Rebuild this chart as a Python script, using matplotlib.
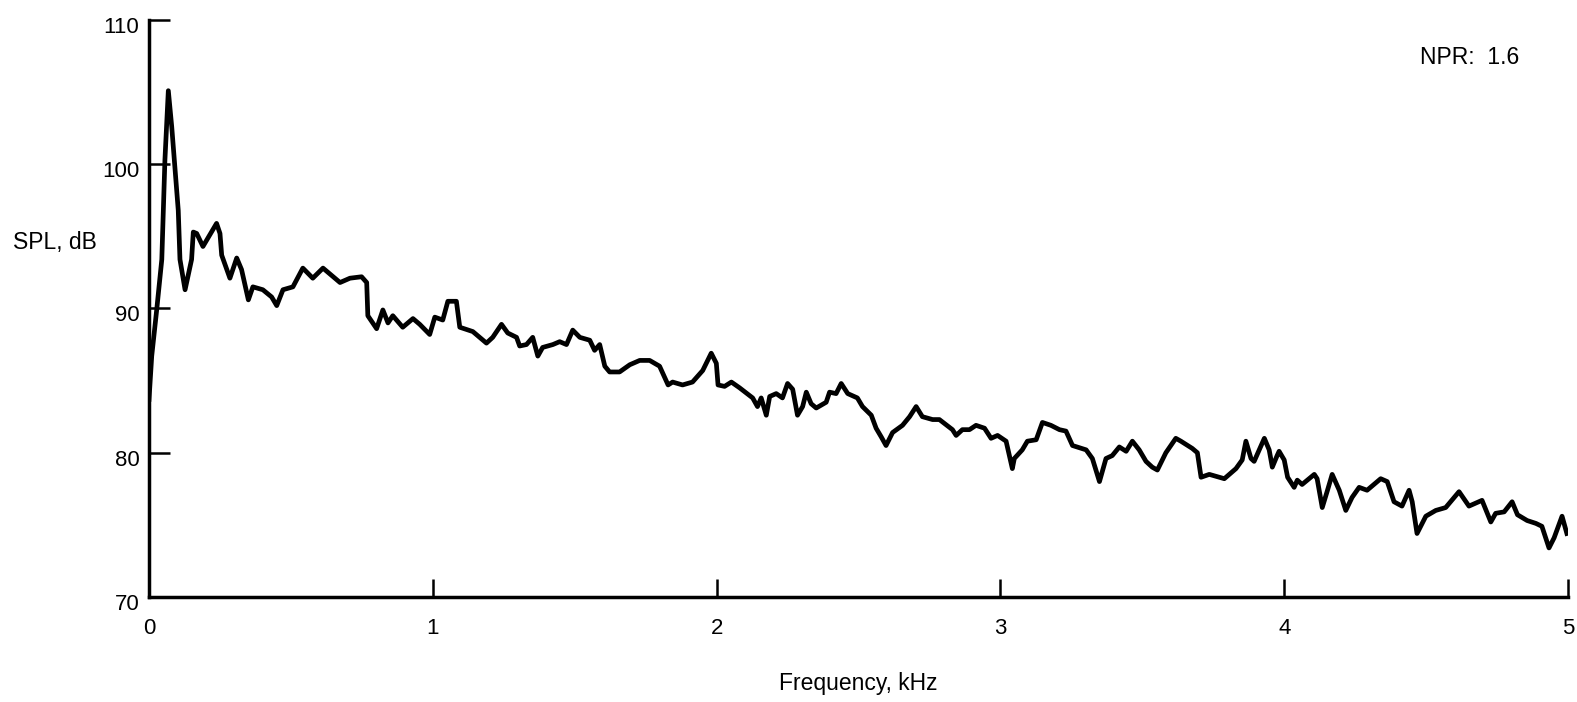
import numpy as np
import matplotlib.pyplot as plt
from matplotlib.transforms import ScaledTranslation

plt.rcParams['font.family'] = ['Liberation Sans', 'DejaVu Sans']

# frequency (kHz) and SPL (dB)
freq = [0.000, 0.0095, 0.027, 0.045, 0.056, 0.068, 0.080, 0.092, 0.103, 0.109,
        0.127, 0.150, 0.156, 0.168, 0.190, 0.238, 0.250, 0.256, 0.285, 0.309,
        0.326, 0.350, 0.366, 0.401, 0.432, 0.450, 0.472, 0.507, 0.542, 0.577,
        0.613, 0.673, 0.708, 0.749, 0.767, 0.771, 0.802, 0.824, 0.842, 0.859,
        0.894, 0.930, 0.954, 0.989, 1.007, 1.035, 1.053, 1.083, 1.095, 1.141,
        1.189, 1.211, 1.242, 1.264, 1.295, 1.306, 1.330, 1.352, 1.370, 1.387,
        1.423, 1.447, 1.471, 1.493, 1.518, 1.553, 1.570, 1.588, 1.606, 1.623,
        1.658, 1.694, 1.729, 1.764, 1.799, 1.829, 1.845, 1.880, 1.915, 1.951,
        1.981, 1.999, 2.005, 2.028, 2.052, 2.081, 2.127, 2.144, 2.157, 2.175,
        2.187, 2.210, 2.232, 2.250, 2.268, 2.285, 2.303, 2.316, 2.333, 2.351,
        2.386, 2.398, 2.421, 2.439, 2.462, 2.496, 2.514, 2.545, 2.562, 2.580,
        2.597, 2.620, 2.655, 2.680, 2.703, 2.725, 2.761, 2.785, 2.831, 2.844,
        2.866, 2.891, 2.914, 2.944, 2.967, 2.990, 3.020, 3.042, 3.049, 3.077,
        3.095, 3.126, 3.148, 3.178, 3.208, 3.231, 3.254, 3.302, 3.324, 3.349,
        3.372, 3.394, 3.419, 3.443, 3.465, 3.489, 3.513, 3.535, 3.553, 3.583,
        3.618, 3.636, 3.676, 3.694, 3.707, 3.736, 3.789, 3.830, 3.852, 3.865,
        3.883, 3.894, 3.930, 3.947, 3.958, 3.975, 3.982, 4.000, 4.012, 4.035,
        4.046, 4.063, 4.106, 4.116, 4.134, 4.151, 4.169, 4.194, 4.217, 4.239,
        4.264, 4.292, 4.340, 4.363, 4.387, 4.415, 4.440, 4.451, 4.468, 4.499,
        4.534, 4.569, 4.616, 4.651, 4.697, 4.728, 4.745, 4.775, 4.803, 4.822,
        4.856, 4.887, 4.908, 4.933, 4.951, 4.968, 4.979, 4.996]
spl = [83.7, 86.7, 89.9, 93.4, 100.3, 105.1, 102.6, 99.6, 96.8, 93.4,
       91.3, 93.4, 95.3, 95.2, 94.3, 95.9, 95.2, 93.7, 92.1, 93.5,
       92.7, 90.6, 91.5, 91.3, 90.8, 90.2, 91.3, 91.5, 92.8, 92.1,
       92.8, 91.8, 92.1, 92.2, 91.8, 89.5, 88.6, 89.9, 89.0, 89.5,
       88.7, 89.3, 88.9, 88.2, 89.4, 89.2, 90.5, 90.5, 88.7, 88.4,
       87.6, 88.0, 88.9, 88.3, 88.0, 87.4, 87.5, 88.0, 86.7, 87.3,
       87.5, 87.7, 87.5, 88.5, 88.0, 87.8, 87.1, 87.5, 86.0, 85.6,
       85.6, 86.1, 86.4, 86.4, 86.0, 84.7, 84.9, 84.7, 84.9, 85.7,
       86.9, 86.2, 84.7, 84.6, 84.9, 84.5, 83.8, 83.2, 83.8, 82.6,
       83.9, 84.1, 83.8, 84.8, 84.4, 82.6, 83.2, 84.2, 83.4, 83.1,
       83.5, 84.2, 84.1, 84.8, 84.1, 83.8, 83.2, 82.6, 81.7, 81.1,
       80.5, 81.4, 81.9, 82.5, 83.2, 82.5, 82.3, 82.3, 81.6, 81.2,
       81.6, 81.6, 81.9, 81.7, 81.0, 81.2, 80.8, 78.9, 79.6, 80.2,
       80.8, 80.9, 82.1, 81.9, 81.6, 81.5, 80.5, 80.2, 79.6, 78.0,
       79.6, 79.8, 80.4, 80.1, 80.8, 80.2, 79.4, 79.0, 78.8, 80.0,
       81.0, 80.8, 80.3, 80.0, 78.3, 78.5, 78.2, 78.9, 79.5, 80.8,
       79.6, 79.4, 81.0, 80.2, 79.0, 79.8, 80.1, 79.5, 78.3, 77.6,
       78.1, 77.8, 78.5, 78.2, 76.2, 77.3, 78.5, 77.4, 76.0, 76.9,
       77.6, 77.4, 78.2, 78.0, 76.6, 76.3, 77.4, 76.6, 74.4, 75.6,
       76.0, 76.2, 77.3, 76.3, 76.7, 75.2, 75.8, 75.9, 76.6, 75.7,
       75.3, 75.1, 74.9, 73.4, 74.1, 75.0, 75.6, 74.4]

xticks = [0, 1, 2, 3, 4, 5]
yticks = [70, 80, 90, 100, 110]

fig = plt.figure(figsize=(15.77, 7.02), dpi=100)
ax = fig.add_axes([0.0945, 0.1496, 0.8998, 0.8219])

ax.plot(freq, spl, color='black', lw=3.4, solid_joinstyle='round')

ax.set_xlim(0, 5)
ax.set_ylim(70, 110)
ax.set_xticks(xticks)
ax.set_yticks(yticks)
ax.tick_params(axis='both', direction='in', width=1.8, labelsize=16, colors='black')
ax.tick_params(axis='y', length=15, pad=7)
ax.tick_params(axis='x', length=13, pad=15)

# y tick labels sit a little below their ticks in the original
shift = ScaledTranslation(0, -5 / 100, fig.dpi_scale_trans)
for lab in ax.get_yticklabels():
    lab.set_transform(lab.get_transform() + shift)

for s in ['top', 'right']:
    ax.spines[s].set_visible(False)
for s in ['left', 'bottom']:
    ax.spines[s].set_linewidth(2.5)

ax.set_xlabel('Frequency, kHz', fontsize=16.5, labelpad=24)
fig.text(13 / 1577, 1 - 243 / 702, 'SPL, dB', fontsize=16.5, ha='left', va='center')
fig.text(1420 / 1577, 1 - 57 / 702, 'NPR:  1.6', fontsize=16.5, ha='left', va='center')

fig.savefig('out.png', dpi=100)
